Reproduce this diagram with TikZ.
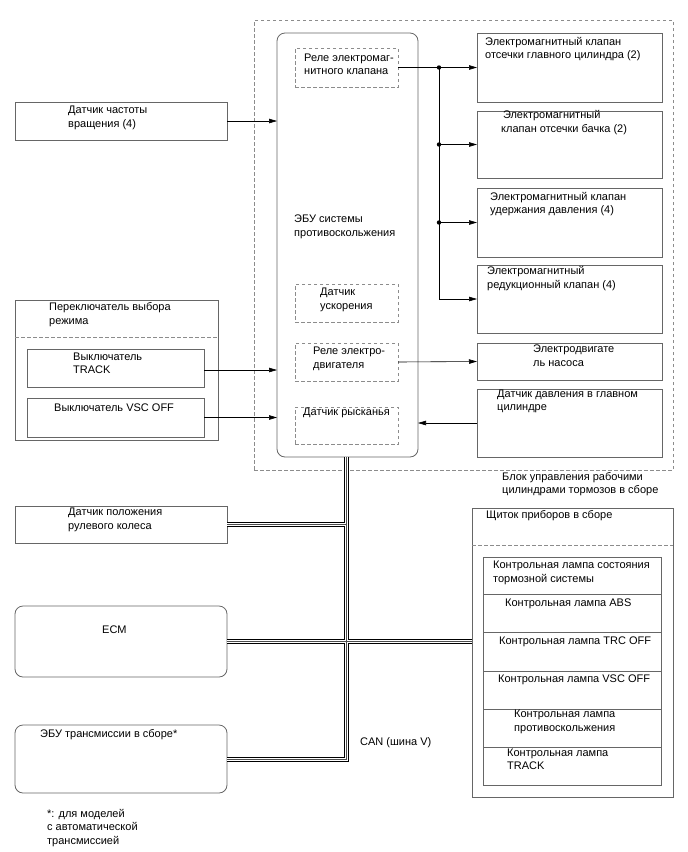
\documentclass[tikz,border=0pt]{standalone}
\usepackage{fontspec}
\setmainfont{Liberation Sans}
\usetikzlibrary{arrows.meta}
\newcommand{\lbfont}{\fontsize{11}{13.5}\selectfont}
\tikzset{
  box/.style={draw=black!60, line width=0.8pt, anchor=north west, inner sep=0pt, outer sep=0pt},
  rbox/.style={box, rounded corners=8pt},
  dbox/.style={draw=black!45, dash pattern=on 3.5pt off 2.5pt, line width=0.8pt, anchor=north west, inner sep=0pt, outer sep=0pt},
  lbl/.style={anchor=west, align=left, inner sep=0pt, font=\lbfont},
  arr/.style={-{Triangle[length=8pt,width=4.5pt]}, line width=0.6pt},
  ln/.style={line width=0.6pt},
  busA/.style={line width=5pt, black, line join=miter},
  busB/.style={line width=3pt, white, line join=miter},
  busC/.style={line width=0.9pt, black!70, line join=miter},
}
\begin{document}
\begin{tikzpicture}[x=1pt,y=-1pt]
\useasboundingbox (0,0) rectangle (688,852);
% outer dashed block
\node[dbox, minimum width=419pt, minimum height=450pt] (blk) at (254,20) {};
% ECU
\node[rbox, minimum width=141pt, minimum height=424pt] (ecu) at (277,33) {};
\node[lbl] (ecut) at (294,227) {ЭБУ системы\\противоскольжения};
\node[dbox, minimum width=103pt, minimum height=39pt] (rel1) at (295,48) {};
\node[lbl] (rel1t) at (304,64.5) {Реле электромаг-\\нитного клапана};
\node[dbox, minimum width=103pt, minimum height=38pt] (acc) at (295,284) {};
\node[lbl] (acct) at (320,300) {Датчик\\ускорения};
\node[dbox, minimum width=103pt, minimum height=38pt] (rel2) at (295,343) {};
\node[lbl] (rel2t) at (313,359) {Реле электро-\\двигателя};
\node[dbox, minimum width=103pt, minimum height=37pt] (yaw) at (295,407) {};
\node[lbl] (yawt) at (303,413) {Датчик рысканья};
% right valve boxes
\node[box, minimum width=185pt, minimum height=69pt] (v1) at (477,33) {};
\node[lbl] (v1t) at (485,49) {Электромагнитный клапан\\отсечки главного цилиндра (2)};
\node[box, minimum width=185pt, minimum height=67pt] (v2) at (477,111) {};
\node[lbl] (v2t) at (501,122.5) {\,Электромагнитный\\клапан отсечки бачка (2)};
\node[box, minimum width=185pt, minimum height=69pt] (v3) at (477,188) {};
\node[lbl] (v3t) at (490,204) {Электромагнитный клапан\\удержания давления (4)};
\node[box, minimum width=185pt, minimum height=68pt] (v4) at (477,265) {};
\node[lbl] (v4t) at (487,278.5) {Электромагнитный\\редукционный клапан (4)};
\node[box, minimum width=185pt, minimum height=37pt] (mot) at (477,343) {};
\node[lbl] (mott) at (533,355.5) {Электродвигате\\ль насоса};
\node[box, minimum width=185pt, minimum height=68pt] (pres) at (477,389) {};
\node[lbl] (prest) at (497,401.5) {Датчик давления в главном\\цилиндре};
\node[lbl] (blkt) at (502,484) {Блок управления рабочими\\цилиндрами тормозов в сборе};
% left boxes
\node[box, minimum width=212pt, minimum height=38pt] (spd) at (15,102) {};
\node[lbl] (spdt) at (68,118) {Датчик частоты\\вращения (4)};
\node[box, minimum width=203pt, minimum height=140pt] (mode) at (15,300) {};
\draw[draw=black!45, dash pattern=on 3.5pt off 2.5pt, line width=0.8pt] (mode.west |- 0,337) coordinate (md1) -- (mode.east |- 0,337) coordinate (md2);
\node[lbl] (modet) at (49,314.5) {Переключатель выбора\\режима};
\node[box, minimum width=177pt, minimum height=38pt] (trk) at (27,349) {};
\node[lbl] (trkt) at (73,363.5) {Выключатель\\TRACK};
\node[box, minimum width=177pt, minimum height=39pt] (vsc) at (27,398) {};
\node[lbl] (vsct) at (54,408) {Выключатель VSC OFF};
\node[box, minimum width=212pt, minimum height=37pt] (str) at (15,506) {};
\node[lbl] (strt) at (68,520) {Датчик положения\\рулевого колеса};
\node[rbox, minimum width=212pt, minimum height=71pt] (ecm) at (15,606) {};
\node[lbl] (ecmt) at (102,630) {ECM};
\node[rbox, minimum width=212pt, minimum height=68pt] (trn) at (15,725) {};
\node[lbl] (trnt) at (40,735) {ЭБУ трансмиссии в сборе*};
\node[lbl] (cant) at (360,743) {CAN (шина V)};
\node[lbl] (foot) at (47,828) {*: для моделей\\с автоматической\\трансмиссией};
% instrument cluster
\node[box, minimum width=201pt, minimum height=289pt] (clu) at (472,508) {};
\draw[draw=black!45, dash pattern=on 3.5pt off 2.5pt, line width=0.8pt] (clu.west |- 0,545) -- (clu.east |- 0,545);
\node[lbl] (clut) at (486,516) {Щиток приборов в сборе};
\node[box, minimum width=178pt, minimum height=37pt] (l1) at (483,557) {};
\node[box, minimum width=178pt, minimum height=38pt] (l2) at (483,594) {};
\node[box, minimum width=178pt, minimum height=39pt] (l3) at (483,632) {};
\node[box, minimum width=178pt, minimum height=38pt] (l4) at (483,671) {};
\node[box, minimum width=178pt, minimum height=38pt] (l5) at (483,709) {};
\node[box, minimum width=178pt, minimum height=38pt] (l6) at (483,747) {};
\node[lbl] (l1t) at (493,573) {Контрольная лампа состояния\\тормозной системы};
\node[lbl] (l2t) at (505,604) {Контрольная лампа ABS};
\node[lbl] (l3t) at (499,642) {Контрольная лампа TRC OFF};
\node[lbl] (l4t) at (498,680) {Контрольная лампа VSC OFF};
\node[lbl] (l5t) at (514,722) {Контрольная лампа\\противоскольжения};
\node[lbl] (l6t) at (507,759.5) {Контрольная лампа\\TRACK};
% connectors in the block
\coordinate (jx) at (439,0);
\coordinate (j1) at (jx |- v1.west);
\coordinate (j2) at (jx |- v2.west);
\coordinate (j3) at (jx |- v3.west);
\coordinate (j4) at (jx |- v4.west);
\draw[arr] (rel1.east |- v1.west) -- (v1.west);
\draw[ln] (j1) -- (j4);
\draw[arr] (j2) -- (v2.west);
\draw[arr] (j3) -- (v3.west);
\draw[arr] (j4) -- (v4.west);
\foreach \j in {j1,j2,j3} \fill (\j) circle (2.2pt);
\draw[arr] (rel2.east) -- (mot.west);
\draw[arr] (pres.west) -- (pres.west -| ecu.east);
\draw[arr] (spd.east) -- (spd.east -| ecu.west);
\draw[arr] (trk.east |- 0,370) -- (ecu.west |- 0,370);
\draw[arr] (vsc.east) -- (vsc.east -| ecu.west);
% CAN bus
\coordinate (bx) at (346,0);
\coordinate (btop) at (bx |- ecu.south);
\coordinate (bend) at (bx |- trn.east);
\foreach \s in {busA,busB,busC}{
  \draw[\s] (btop) -- (bend) -- (trn.east);
  \draw[\s] (str.east) -- (str.east -| bx);
  \draw[\s] (ecm.east) -- (ecm.east -| clu.west);
}
\end{tikzpicture}
\end{document}
